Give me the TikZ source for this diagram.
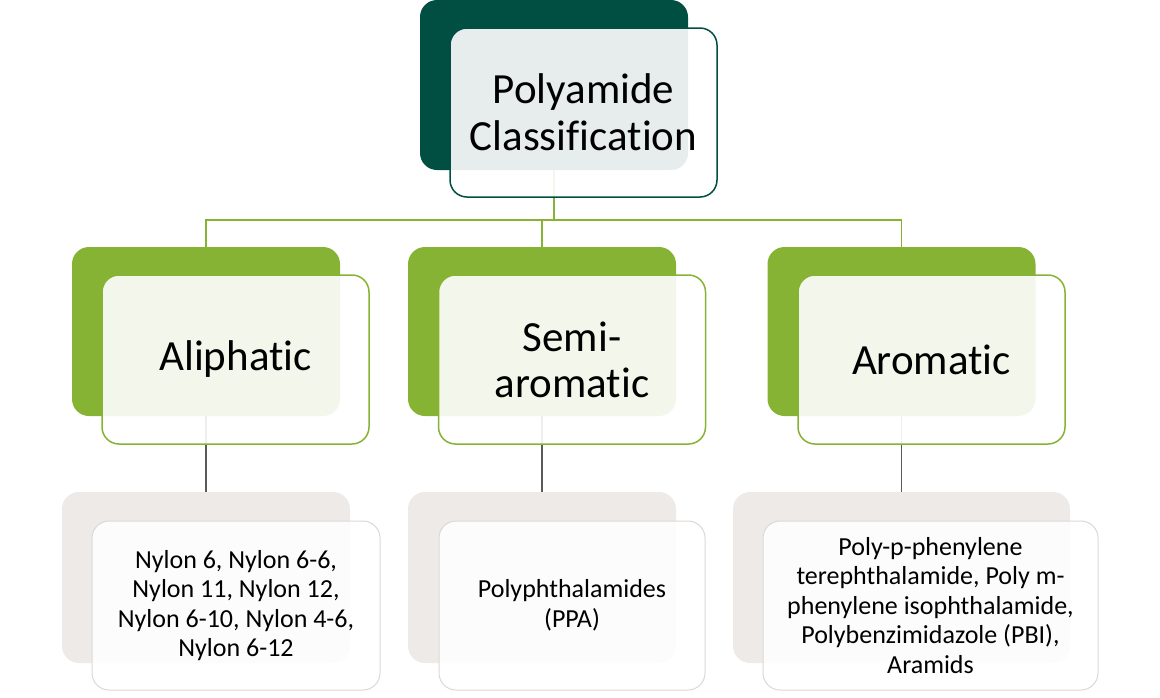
\documentclass[tikz,border=0pt]{standalone}
\usepackage{fontspec}
\setmainfont{Carlito}[Ligatures={NoCommon,NoContextual}]
\definecolor{dkgreen}{RGB}{0,79,66}
\definecolor{ltgreen}{RGB}{134,179,52}
\definecolor{greyback}{RGB}{237,234,231}
\definecolor{greyline}{RGB}{220,216,212}
\definecolor{connector}{RGB}{90,90,90}
\begin{document}
\begin{tikzpicture}[x=1pt,y=-1pt,
  box/.style={rounded corners=17pt, inner sep=0pt, minimum width=267pt, minimum height=169pt},
  backtop/.style={box, fill=dkgreen},
  fronttop/.style={box, draw=dkgreen, line width=1.5pt, fill=white, fill opacity=0.9, text opacity=1, align=center, font=\fontsize{43}{47}\selectfont},
  backmid/.style={box, fill=ltgreen},
  frontmid/.style={box, draw=ltgreen, line width=1.5pt, fill=white, fill opacity=0.9, text opacity=1, align=center, font=\fontsize{43}{46}\selectfont},
  backlow/.style={box, fill=greyback},
  frontlow/.style={box, draw=greyline, line width=1pt, fill=white, fill opacity=0.9, text opacity=1, align=center, font=\fontsize{26}{29.5}\selectfont},
  greenlink/.style={draw=ltgreen, line width=1.5pt},
  greylink/.style={draw=connector, line width=1.2pt}
]
\useasboundingbox (0,0) rectangle (1160,697);
% back boxes
\node[backtop, minimum width=268pt, minimum height=170pt] (topback) at (554,85) {};
\node[backmid, minimum width=268pt] (aliback) at (206,331.5) {};
\node[backmid, minimum width=268pt] (semiback) at (542,331.5) {};
\node[backmid, minimum width=268pt] (aroback) at (901.5,331.5) {};
\node[backlow, minimum width=288pt, minimum height=171pt] (alilowback) at (206,577.5) {};
\node[backlow, minimum width=268pt, minimum height=171pt] (semilowback) at (542,577.5) {};
\node[backlow, minimum width=337pt, minimum height=171pt] (arolowback) at (901.5,577.5) {};
% connectors
\path[greenlink] (topback.south) -- ++(0,50) -| (aliback.north);
\path[greenlink] (topback.south) -- ++(0,50) -| (semiback.north);
\path[greenlink] (topback.south) -- ++(0,50) -| (aroback.north);
\path[greylink] (aliback.south) -- (alilowback.north);
\path[greylink] (semiback.south) -- (semilowback.north);
\path[greylink] (aroback.south) -- (arolowback.north);
% front boxes
\node[fronttop] (top) at (583.5,112.5) {Polyamide\\Classification};
\node[frontmid] (ali) at (235.5,359.5) {Aliphatic};
\node[frontmid] (semi) at (572,359.5) {Semi-\\aromatic};
\node[frontmid] (aro) at (931.5,359.5) {Aromatic};
\node[frontlow, minimum width=288pt] (alilow) at (236,605.5) {Nylon 6, Nylon 6-6,\\Nylon 11, Nylon 12,\\Nylon 6-10, Nylon 4-6,\\Nylon 6-12};
\node[frontlow, minimum width=266pt] (semilow) at (572,605.5) {Polyphthalamides\\(PPA)};
\node[frontlow, minimum width=335pt] (arolow) at (930.5,605.5) {Poly-p-phenylene\\terephthalamide, Poly m-\\phenylene isophthalamide,\\Polybenzimidazole (PBI),\\Aramids};
\end{tikzpicture}
\end{document}
